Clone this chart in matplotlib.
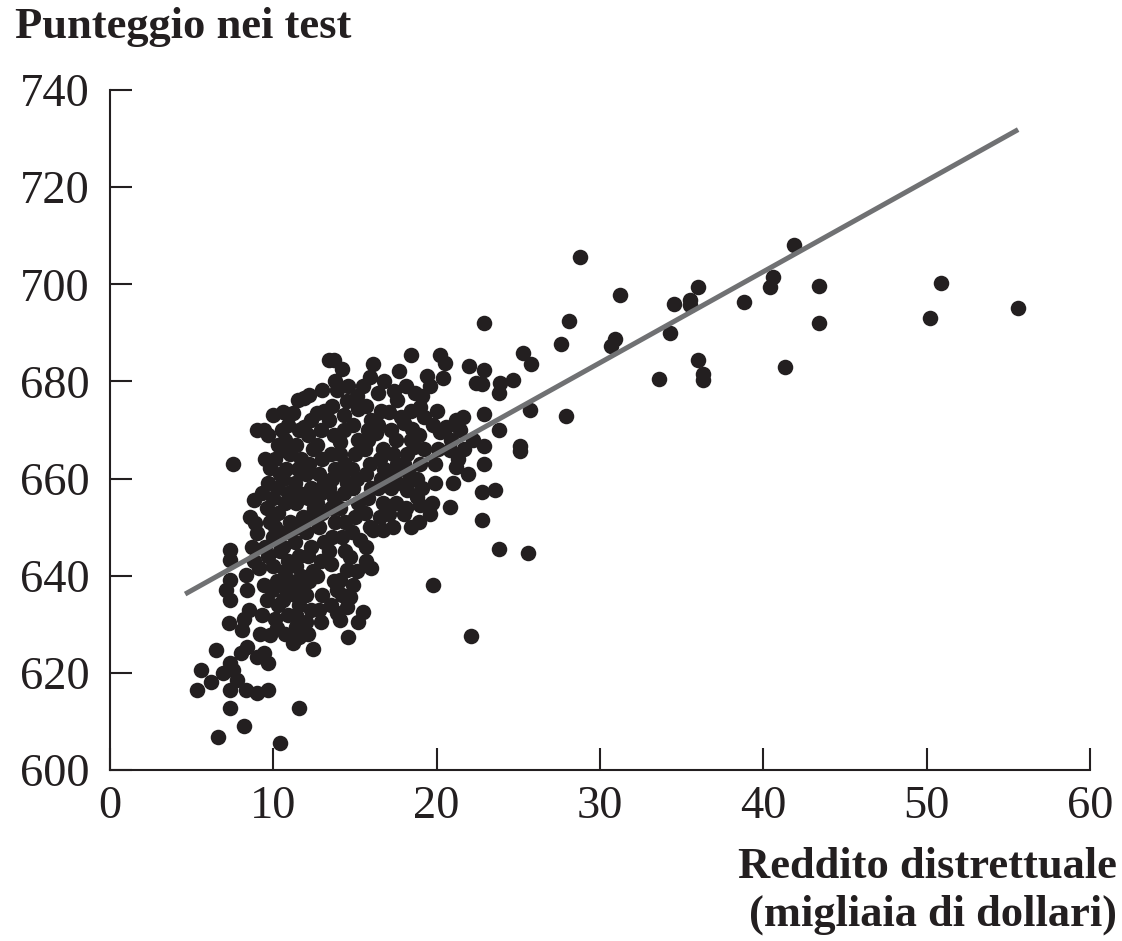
import matplotlib
matplotlib.use("Agg")
import matplotlib.pyplot as plt

# reddito distrettuale (migliaia di $) e punteggio: distretti sparsi a destra
sparse_hi = [
    (55.6, 695.1), (50.9, 700.3), (50.2, 693.0), (43.4, 699.6), (43.4, 692.1),
    (41.9, 708.1), (41.3, 682.9), (40.6, 701.6), (40.4, 699.4), (38.8, 696.4),
    (36.3, 681.5), (36.3, 680.3), (36.0, 684.4), (36.0, 699.4), (35.5, 696.8),
    (35.5, 695.7), (34.5, 695.9), (34.3, 690.0), (33.6, 680.6), (31.2, 697.7),
    (30.9, 688.7), (30.7, 687.2), (28.8, 705.6), (28.1, 692.5), (27.9, 672.9),
    (27.6, 687.7), (25.8, 683.5), (25.3, 685.8), (25.7, 674.1), (25.6, 644.7),
    (25.1, 666.7), (25.1, 665.7), (24.7, 680.3), (23.9, 679.7), (23.8, 677.7),
    (23.8, 670.1), (23.8, 645.6), (23.6, 657.6), (22.9, 692.0), (22.9, 682.4),
    (22.8, 679.4), (22.9, 673.3), (22.9, 666.7), (22.9, 663.1), (22.8, 657.3),
    (22.8, 651.5), (22.1, 627.6), (19.8, 638.1), (16.0, 641.5),
]

# fascia centrale (13-22.5)
band_mid = [
    (22.4, 679.6), (22.0, 683.2), (22.2, 667.9), (21.6, 672.7), (21.2, 672.1),
    (21.2, 662.4), (20.8, 665.9), (20.8, 654.2), (20.6, 670.6), (20.5, 683.7),
    (20.4, 680.8), (20.2, 685.4), (20.2, 669.6), (19.9, 663.1), (19.6, 652.8),
    (19.4, 681.1), (19.2, 672.7), (19.0, 674.8), (19.0, 654.6), (18.8, 656.3),
    (18.7, 677.7), (18.6, 666.5), (18.5, 670.3), (18.4, 685.4), (18.4, 667.9),
    (18.4, 659.7), (18.4, 650.1), (18.2, 657.6), (18.0, 671.4), (18.0, 652.8),
    (17.8, 672.7), (17.7, 682.2), (17.6, 676.2), (17.6, 659.0), (17.1, 673.7),
    (17.1, 652.8), (16.7, 649.4), (16.4, 677.6), (16.3, 669.3), (16.1, 683.6),
    (16.1, 649.4), (15.8, 670.0), (15.7, 646.0), (15.5, 679.1), (15.5, 632.6),
    (15.3, 647.4), (15.2, 674.4), (15.2, 630.5), (14.7, 643.9), (14.7, 635.7),
    (14.6, 627.3), (14.5, 641.2), (14.5, 633.6), (14.3, 673.1), (14.2, 682.5),
    (14.1, 667.6), (14.1, 639.1), (14.1, 630.9), (13.9, 678.2), (13.9, 637.1),
    (13.9, 632.3), (13.7, 684.4), (13.5, 642.5), (13.4, 684.4),
]

# bordo superiore e sinistro del gruppo
edge_left = [
    (13.0, 678.2), (12.7, 673.5), (12.2, 677.2), (11.9, 676.5), (11.9, 670.6),
    (11.5, 676.2), (11.2, 673.5), (10.6, 673.7), (10.6, 665.9), (10.0, 673.1),
    (9.7, 669.0), (9.4, 670.0), (9.0, 670.0), (9.8, 662.1), (7.55, 663.1),
    (8.8, 655.6), (8.9, 650.8), (9.0, 648.7), (10.0, 648.0), (9.1, 641.5),
    (8.3, 640.1), (8.4, 637.1), (7.35, 645.3), (7.35, 643.2), (7.35, 639.1),
    (7.1, 637.1), (7.35, 635.0), (8.5, 633.0), (8.7, 646.0), (8.6, 652.0),
    (8.2, 631.0), (8.8, 643.0), (9.2, 628.0),
]

# parte bassa a sinistra
edge_low = [
    (7.3, 630.3), (8.1, 628.8), (9.8, 627.8), (10.2, 629.2), (11.4, 629.5),
    (12.0, 630.5), (11.2, 626.1), (11.6, 627.4), (12.4, 625.0), (12.9, 630.5),
    (6.5, 624.7), (6.9, 619.9), (7.35, 622.0), (7.55, 620.6), (7.75, 618.5),
    (7.35, 616.5), (8.0, 624.0), (8.4, 625.4), (9.0, 623.3), (9.4, 624.0),
    (9.7, 622.0), (9.7, 616.5), (9.0, 615.8), (8.3, 616.5), (11.6, 612.7),
    (10.4, 605.6), (6.6, 606.7), (8.2, 609.1), (7.35, 612.7), (5.3, 616.5),
    (6.2, 618.2), (5.6, 620.6),
]

# nucleo denso
core = [
    (9.3, 632), (9.6, 635), (9.4, 638), (9.7, 644), (9.5, 646), (9.8, 651),
    (9.6, 654), (9.3, 657), (9.7, 659), (9.5, 664),
    (10.1, 631), (10.3, 634), (9.9, 637), (10.2, 639), (10.0, 642), (10.4, 645),
    (10.1, 650), (10.3, 653), (10.0, 656), (10.2, 658), (10.4, 661), (10.1, 664),
    (10.3, 667), (10.5, 670),
    (10.7, 628), (10.9, 632), (10.6, 635), (10.8, 637), (11.0, 639), (10.7, 641),
    (10.9, 643), (10.6, 646), (10.8, 649), (11.0, 651), (10.7, 655), (10.9, 657),
    (10.6, 660), (10.8, 662), (11.0, 665), (10.7, 668), (10.9, 671),
    (11.4, 632), (11.6, 634), (11.3, 636), (11.5, 638), (11.7, 640), (11.4, 642),
    (11.6, 644), (11.3, 647), (11.5, 650), (11.8, 652), (11.4, 655), (11.6, 657),
    (11.3, 659), (11.5, 662), (11.7, 664), (11.4, 667), (11.6, 670),
    (12.1, 628), (12.3, 633), (12.0, 636), (12.2, 639), (12.4, 641), (12.1, 644),
    (12.3, 646), (12.0, 649), (12.2, 652), (12.5, 654), (12.1, 656), (12.3, 658),
    (12.0, 661), (12.2, 663), (12.4, 666), (12.1, 669), (12.3, 672),
    (12.8, 633), (13.0, 636), (12.7, 640), (12.9, 643), (13.1, 647), (12.8, 650),
    (13.0, 653), (12.7, 655), (12.9, 657), (13.1, 659), (12.8, 661), (13.0, 664),
    (12.7, 667), (12.9, 670), (13.1, 674),
    (13.5, 634), (13.7, 639), (13.4, 645), (13.6, 648), (13.8, 651), (13.5, 654),
    (13.7, 656), (13.4, 658), (13.6, 660), (13.8, 662), (13.5, 665), (13.7, 669),
    (13.4, 672), (13.6, 675), (13.8, 680),
    (14.2, 636), (14.4, 645), (14.2, 648), (14.4, 651), (14.1, 654), (14.3, 657),
    (14.5, 659), (14.2, 661), (14.4, 663), (14.1, 665), (14.3, 670), (14.5, 676),
    (14.6, 679),
    (14.9, 638), (15.1, 641), (14.8, 649), (15.0, 652), (15.2, 655), (14.9, 658),
    (15.1, 660), (14.8, 662), (15.0, 665), (15.2, 668), (14.9, 671), (15.1, 677),
    (15.7, 643), (15.9, 650), (15.6, 653), (15.8, 656), (16.0, 658), (15.7, 661),
    (15.9, 663), (15.6, 666), (15.8, 668), (16.0, 672), (15.7, 675), (15.9, 681),
    (16.5, 652), (16.7, 655), (16.4, 658), (16.6, 660), (16.8, 662), (16.5, 664),
    (16.7, 666), (16.4, 671), (16.6, 674), (16.8, 680),
    (17.3, 650), (17.5, 655), (17.2, 658), (17.4, 661), (17.6, 663), (17.3, 665),
    (17.5, 668), (17.2, 670), (17.4, 678),
    (18.1, 654), (18.3, 661), (18.0, 663), (18.2, 665), (18.4, 674), (18.1, 679),
    (18.9, 651), (19.1, 658), (18.8, 660), (19.0, 663), (19.2, 666), (18.9, 669),
    (19.1, 677),
    (19.7, 655), (19.9, 659), (20.1, 666), (19.8, 671), (20.0, 674), (19.6, 679),
    (21.0, 659), (21.3, 664), (20.9, 668), (21.4, 670), (21.7, 666), (21.9, 661),
]

# retta di regressione stimata
fit_intercept = 627.6
fit_slope = 1.875
fit_range = [4.6, 55.6]

x_ticks = [0, 10, 20, 30, 40, 50, 60]
y_ticks = [600, 620, 640, 660, 680, 700, 720, 740]

plt.rcParams["font.family"] = ["Liberation Serif", "DejaVu Serif"]

points = sparse_hi + band_mid + edge_left + edge_low + core
income = [p[0] for p in points]
score = [p[1] for p in points]

fig = plt.figure(figsize=(11.22, 9.41), dpi=100)
ax = fig.add_axes([110 / 1122, 171 / 941, 980 / 1122, 680 / 941])

ax.scatter(income, score, s=125, color="#231f20", linewidths=0, zorder=2)
fit_y = [fit_intercept + fit_slope * v for v in fit_range]
ax.plot(fit_range, fit_y, color="#707173", lw=3.6, solid_capstyle="butt", zorder=3)

ax.set_xlim(0, 60)
ax.set_ylim(600, 740)
ax.set_xticks(x_ticks)
ax.set_yticks(y_ticks)
ax.spines["top"].set_visible(False)
ax.spines["right"].set_visible(False)
for s in ["left", "bottom"]:
    ax.spines[s].set_linewidth(1.5)
    ax.spines[s].set_color("#231f20")
ax.tick_params(direction="in", length=16, width=1.5, color="#231f20",
               labelsize=33.5, labelcolor="#231f20")
ax.tick_params(axis="x", pad=11)
ax.tick_params(axis="y", pad=15)

fig.text(15 / 1122, 1 - 38 / 941, "Punteggio nei test", fontsize=32,
         fontweight="bold", color="#231f20", ha="left", va="baseline")
fig.text(1117 / 1122, 1 - 878 / 941, "Reddito distrettuale", fontsize=32,
         fontweight="bold", color="#231f20", ha="right", va="baseline")
fig.text(1117 / 1122, 1 - 926 / 941, "(migliaia di dollari)", fontsize=32,
         fontweight="bold", color="#231f20", ha="right", va="baseline")

fig.savefig("out.png", dpi=100)
